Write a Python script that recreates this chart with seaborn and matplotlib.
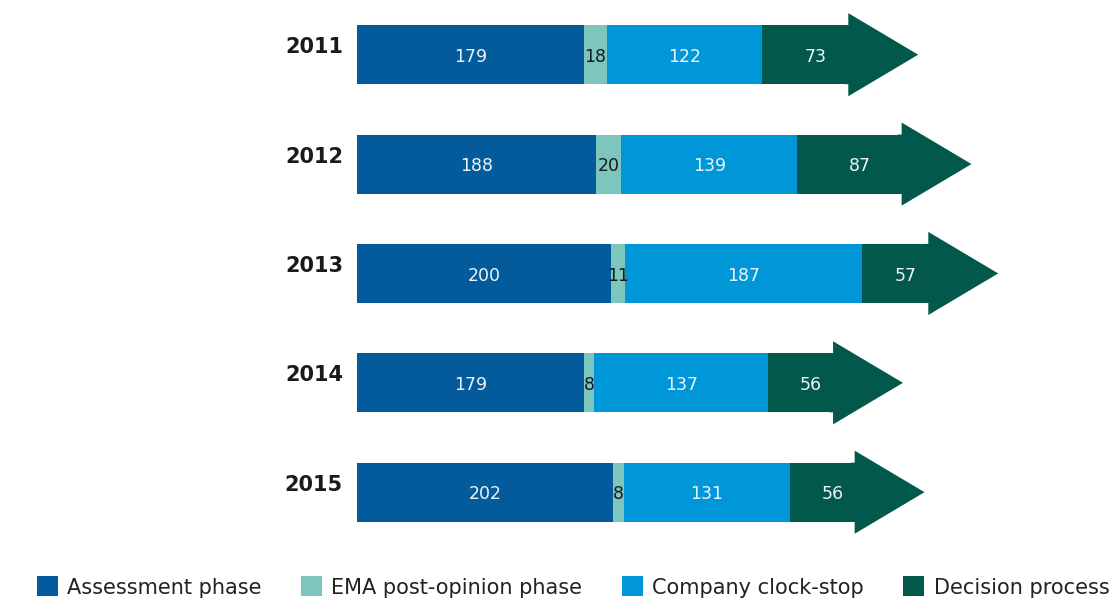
import pandas as pd
import matplotlib.pyplot as plt
from matplotlib.patches import Patch
from matplotlib.transforms import ScaledTranslation
import seaborn as sns

# days spent in each phase of the procedure, per year
years = ["2011", "2012", "2013", "2014", "2015"]
assessment = [179, 188, 200, 179, 202]
ema_post = [18, 20, 11, 8, 8]
clock_stop = [122, 139, 187, 137, 131]
decision = [73, 87, 57, 56, 56]

phases = ["Assessment phase", "EMA post-opinion phase", "Company clock-stop", "Decision process"]
colors = ["#035B9B", "#7DC6BD", "#0097D8", "#02594B"]

sns.set_theme(style="white")
plt.rcParams["font.family"] = ["DejaVu Sans"]

df = pd.DataFrame({"Year": years, "Assessment": assessment, "EMA": ema_post,
                   "Clock": clock_stop, "Decision": decision})
df["c1"] = df["Assessment"]
df["c2"] = df["c1"] + df["EMA"]
df["c3"] = df["c2"] + df["Clock"]
df["c4"] = df["c3"] + df["Decision"]

BAR_H = 0.54
HEAD_BACK = 5      # head base sits a little before the segment end (days)
HEAD_FWD = 50      # tip beyond the segment end (days)
HEAD_HALF = 0.38   # half height of arrow head (category units)

df["shaft"] = df["c4"] - HEAD_BACK

fig = plt.figure(figsize=(11.15, 5.99), dpi=100)
ax = fig.add_axes([0.32, 0.087, 0.68, 0.913])

# stacked bars drawn as overlapping cumulative bars, longest first
for col, c in zip(["shaft", "c3", "c2", "c1"], colors[::-1]):
    sns.barplot(data=df, x=col, y="Year", color=c, saturation=1, width=BAR_H,
                linewidth=0, ax=ax)

# arrow heads on the decision segment (overlap the shaft a bit to hide the seam)
h = BAR_H / 2
for i, row in df.iterrows():
    base = row["shaft"]
    tip = row["c4"] + HEAD_FWD
    xs = [base - 3, base, base, tip, base, base, base - 3]
    ys = [i - h, i - h, i - HEAD_HALF, i, i + HEAD_HALF, i + h, i + h]
    ax.fill(xs, ys, color=colors[3], linewidth=0)

# segment labels
for i, row in df.iterrows():
    y = i + 0.02
    kw = dict(ha="center", va="center", fontsize=12.5)
    ax.text(row["c1"] / 2, y, str(row["Assessment"]), color="#EEF3F7", **kw)
    ax.text(row["c1"] + row["EMA"] / 2, y, str(row["EMA"]), color="#1A1A1A", **kw)
    ax.text(row["c2"] + row["Clock"] / 2, y, str(row["Clock"]), color="#EEF3F7", **kw)
    ax.text(row["c3"] + row["Decision"] / 2 + 5.5, y, str(row["Decision"]), color="#EEF3F7", **kw)

ax.set_xlim(0, 597)
ax.set_ylim(4.5, -0.5)
ax.set_xlabel("")
ax.set_ylabel("")
ax.set_xticks([])
ax.tick_params(axis="y", length=0, pad=10)
shift = ScaledTranslation(0, 0.095, fig.dpi_scale_trans)
for lab in ax.get_yticklabels():
    lab.set_fontsize(15)
    lab.set_fontweight("bold")
    lab.set_color("#1A1A1A")
    lab.set_transform(lab.get_transform() + shift)
sns.despine(ax=ax, left=True, bottom=True)

handles = [Patch(facecolor=c, edgecolor="none") for c in colors]
leg = fig.legend(handles, phases, loc="center left", bbox_to_anchor=(0.033, 0.02),
                 ncol=4, frameon=False, fontsize=15, handlelength=1.0, handleheight=1.1,
                 handletextpad=0.45, columnspacing=1.9, borderpad=0, borderaxespad=0)
for t in leg.get_texts():
    t.set_color("#222222")

fig.savefig("out.png", dpi=100, facecolor="white")
